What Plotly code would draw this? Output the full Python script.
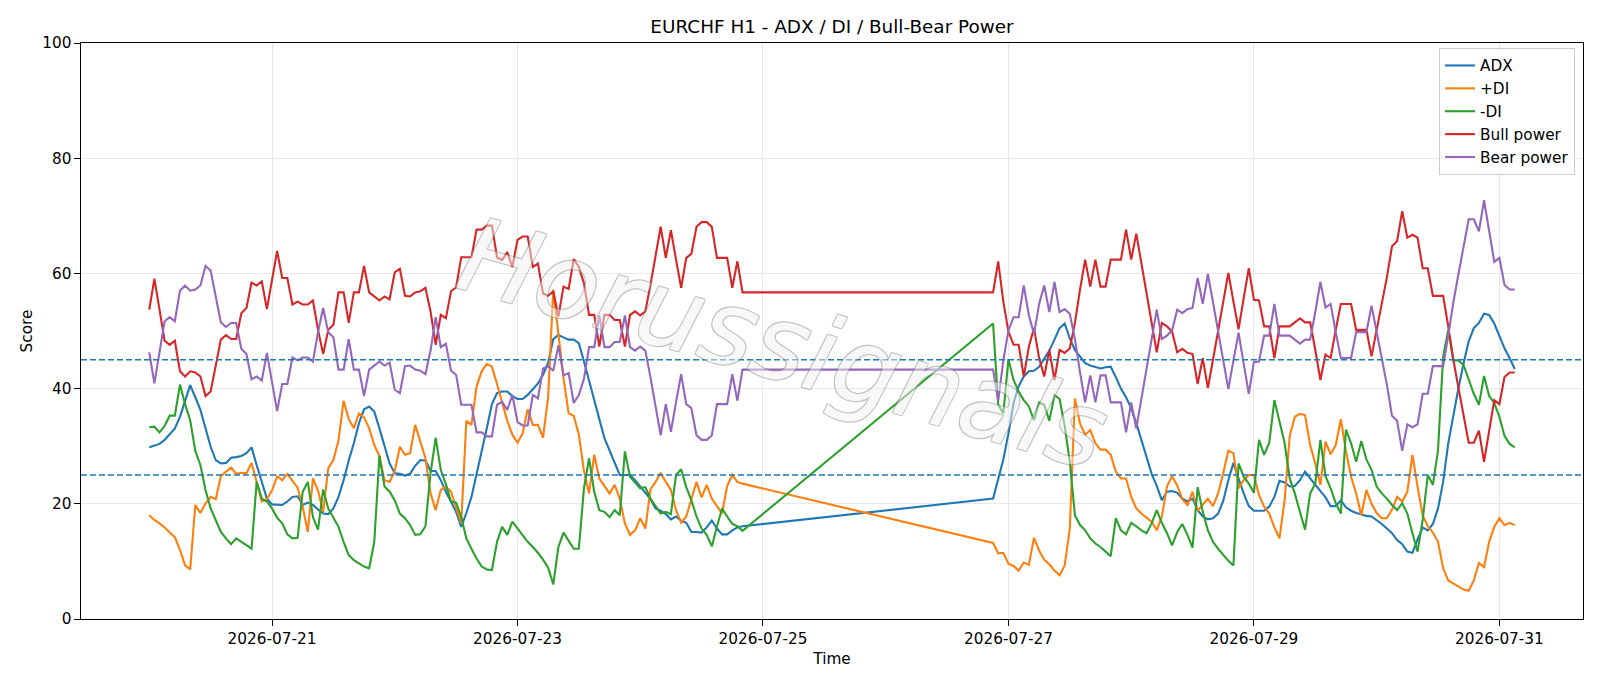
import pandas as pd
import plotly.graph_objects as go

# hourly bars, the market is closed over the weekend
times = list(pd.date_range("2026-07-20 00:00", "2026-07-24 20:00", freq="h")) + \
    list(pd.date_range("2026-07-26 21:00", "2026-07-31 03:00", freq="h"))

adx_wk1 = [
    29.8, 30.1, 30.4, 31.1, 32.1, 33.1, 35.1, 37.9, 40.6, 38.5,
    36.3, 33.1, 29.9, 27.6, 27.0, 27.1, 28.0, 28.1, 28.3, 28.8,
    29.8, 26.7, 23.8, 20.9, 19.9, 19.8, 19.8, 20.4, 21.2, 21.3,
    19.8, 20.2, 19.8, 19.0, 18.3, 18.2, 19.2, 21.2, 24.1, 27.5,
    30.5, 34.0, 36.4, 36.9, 36.0, 33.1, 29.9, 27.0, 25.3, 25.2,
    24.9, 25.2, 26.6, 27.6, 27.5, 25.7, 25.7, 24.1, 22.1, 20.4,
    18.6, 16.0, 18.4, 21.2, 25.0, 29.1, 33.1, 37.3, 39.2, 39.5,
    39.5, 38.7, 38.2, 38.2, 38.9, 39.9, 40.9, 42.4, 44.5, 48.6,
    49.3, 48.9, 48.5, 48.5, 47.9, 44.7, 41.5, 38.0, 34.7, 31.4,
    29.3, 27.0, 25.0, 25.0, 25.0, 24.1, 23.0, 21.8, 20.8, 19.2,
    18.8, 18.2, 17.3, 17.8, 17.1, 16.7, 15.1, 15.1, 15.0, 15.9,
    17.1, 15.7, 14.7, 14.7, 15.4, 15.9, 16.1,
]
adx_wk2 = [
    20.9, 24.4, 27.7, 32.2, 37.5,
    40.4, 42.1, 43.0, 43.1, 43.8, 45.2, 46.6, 48.5, 50.5, 51.3,
    48.7, 46.7, 45.5, 44.4, 44.0, 43.7, 43.5, 43.7, 43.8, 42.0,
    40.0, 38.5, 36.6, 34.0, 31.1, 28.3, 25.2, 23.1, 20.6, 22.1,
    22.2, 21.9, 20.9, 20.4, 20.9, 18.9, 17.8, 17.3, 17.5, 18.3,
    20.5, 24.1, 27.1, 24.4, 21.8, 19.6, 18.8, 18.8, 18.8, 19.5,
    21.2, 24.0, 23.7, 23.0, 23.1, 24.1, 25.6, 24.4, 23.3, 22.1,
    21.1, 19.6, 19.6, 20.6, 19.4, 18.8, 18.4, 18.2, 17.9, 17.8,
    17.2, 16.5, 15.7, 14.9, 13.7, 13.0, 11.7, 11.5, 13.8, 15.9,
    15.4, 16.5, 19.2, 23.8, 30.5, 35.6, 40.1, 44.4, 48.2, 50.5,
    51.4, 53.0, 52.8, 51.3, 49.0, 47.0, 45.3, 43.4,
]

pdi_wk1 = [
    18.0, 17.2, 16.6, 15.9, 15.0, 14.2, 12.0, 9.3, 8.6, 19.8,
    18.4, 20.1, 21.2, 20.8, 24.8, 25.6, 26.3, 25.2, 25.4, 25.3,
    27.1, 23.8, 20.4, 20.8, 22.3, 24.8, 24.1, 25.2, 24.1, 22.8,
    19.5, 15.1, 24.4, 22.3, 18.6, 26.2, 27.6, 31.0, 37.9, 34.7,
    33.1, 35.7, 35.0, 33.1, 30.2, 28.3, 24.1, 23.8, 25.7, 29.9,
    28.5, 28.8, 33.7, 30.8, 27.9, 21.8, 18.9, 22.4, 23.0, 22.1,
    19.2, 16.6, 34.4, 33.7, 40.4, 43.0, 44.3, 43.8, 40.8, 37.6,
    34.4, 32.0, 30.6, 32.2, 36.4, 33.7, 33.7, 31.5, 38.6, 57.2,
    49.7, 41.8, 35.7, 35.3, 32.0, 25.7, 21.8, 28.5, 24.4, 23.1,
    21.8, 23.3, 20.9, 16.6, 14.6, 15.4, 17.5, 15.7, 22.5, 23.8,
    25.4, 23.8, 22.4, 18.9, 16.7, 17.8, 20.6, 23.8, 21.1, 23.3,
    20.9, 19.5, 18.3, 23.1, 25.0, 23.8, 23.5,
]
pdi_wk2 = [
    13.2, 11.4, 11.5, 9.6, 9.2,
    8.4, 9.8, 9.4, 14.1, 11.9, 10.3, 9.5, 8.4, 7.6, 9.3,
    15.7, 38.3, 33.9, 32.0, 32.8, 30.5, 29.4, 29.4, 28.5, 25.6,
    24.4, 24.4, 21.2, 19.2, 18.3, 17.6, 16.9, 15.4, 17.8, 23.0,
    24.8, 23.2, 20.8, 19.8, 22.1, 18.8, 19.8, 20.9, 19.6, 21.8,
    25.3, 29.2, 28.8, 22.7, 24.1, 25.0, 25.0, 21.5, 19.5, 18.3,
    15.9, 14.0, 20.6, 31.8, 35.1, 35.6, 35.4, 30.2, 27.0, 23.3,
    30.8, 28.6, 30.2, 34.7, 29.1, 24.7, 21.8, 18.0, 22.4, 20.0,
    18.4, 17.5, 17.5, 19.0, 21.2, 20.4, 22.1, 28.5, 23.0, 18.0,
    16.1, 15.0, 13.4, 8.8, 6.7, 6.2, 5.6, 5.1, 4.9, 6.7,
    9.7, 9.0, 13.4, 16.0, 17.5, 16.3, 16.7, 16.3,
]

mdi_wk1 = [
    33.3, 33.4, 32.4, 33.5, 35.3, 35.3, 40.7, 37.3, 34.5, 29.2,
    26.7, 22.4, 19.2, 17.2, 15.1, 14.0, 13.0, 14.0, 13.4, 12.8,
    12.2, 23.8, 20.9, 20.4, 19.2, 17.6, 16.6, 14.7, 14.0, 14.1,
    22.1, 23.8, 17.7, 15.5, 22.5, 19.2, 17.7, 16.0, 13.4, 11.1,
    10.2, 9.6, 9.1, 8.8, 13.4, 28.3, 23.0, 22.1, 20.6, 18.3,
    17.5, 16.3, 14.6, 14.7, 16.1, 25.3, 31.5, 25.9, 23.4, 20.4,
    20.2, 17.7, 14.0, 12.2, 10.5, 9.1, 8.6, 8.5, 13.4, 16.0,
    14.6, 16.9, 15.7, 14.6, 13.4, 12.5, 11.5, 10.3, 8.9, 6.0,
    12.5, 15.0, 13.7, 12.2, 12.2, 22.7, 27.9, 22.1, 18.9, 18.6,
    17.7, 18.9, 18.0, 29.1, 24.7, 23.7, 22.7, 22.9, 20.9, 19.6,
    18.3, 18.6, 18.2, 25.0, 26.0, 22.9, 20.6, 17.8, 15.7, 14.6,
    12.6, 16.0, 19.2, 17.8, 16.5, 16.1, 15.3,
]
mdi_wk2 = [
    51.3, 37.2, 35.7, 45.1, 41.5,
    39.5, 38.0, 36.9, 34.5, 37.6, 37.2, 34.4, 38.9, 38.2, 33.5,
    27.3, 18.0, 16.3, 15.4, 14.0, 13.1, 12.5, 11.7, 10.9, 17.5,
    15.4, 14.7, 16.7, 16.1, 15.4, 14.9, 16.6, 18.9, 16.7, 14.9,
    12.8, 15.1, 16.5, 14.6, 12.4, 22.9, 18.6, 15.4, 13.4, 12.2,
    11.1, 10.1, 9.3, 27.0, 24.7, 23.5, 21.9, 31.1, 28.5, 30.6,
    38.0, 34.3, 30.6, 24.4, 21.8, 18.6, 15.5, 21.8, 23.5, 31.1,
    24.8, 22.7, 20.1, 18.3, 32.9, 30.5, 27.3, 30.9, 27.7, 25.9,
    23.0, 21.8, 20.9, 19.8, 18.9, 20.1, 18.3, 14.9, 11.7, 17.2,
    25.0, 23.3, 29.3, 45.5, 50.2, 44.9, 44.9, 44.1, 41.5, 39.1,
    37.2, 42.2, 38.7, 37.5, 35.1, 31.8, 30.4, 29.8,
]

bull_wk1 = [
    53.7, 59.1, 53.7, 48.3, 47.6, 48.3, 43.0, 42.1, 43.0, 42.8,
    42.1, 38.7, 39.5, 43.8, 48.5, 49.3, 48.6, 48.6, 53.1, 54.0,
    58.4, 57.9, 58.6, 53.8, 58.9, 63.9, 59.2, 59.2, 54.6, 55.1,
    54.6, 54.6, 55.3, 50.2, 46.0, 50.2, 51.1, 56.7, 56.7, 51.4,
    56.7, 56.7, 61.3, 56.7, 56.0, 55.3, 56.0, 55.5, 60.2, 60.8,
    56.1, 56.0, 56.7, 56.9, 57.5, 53.4, 47.6, 52.8, 52.2, 56.9,
    57.6, 62.8, 62.8, 62.8, 67.6, 67.6, 68.3, 68.3, 62.8, 62.3,
    63.7, 61.1, 65.8, 66.4, 66.4, 61.1, 61.7, 56.5, 56.1, 56.9,
    52.5, 57.7, 57.3, 62.5, 61.1, 58.3, 52.8, 52.8, 47.3, 52.8,
    52.8, 51.9, 51.9, 47.3, 52.8, 53.4, 52.7, 53.4, 58.0, 63.1,
    68.1, 62.7, 67.5, 62.4, 57.5, 62.7, 63.4, 68.1, 68.9, 68.9,
    68.1, 62.7, 62.7, 62.7, 57.5, 62.1, 56.7,
]
bull_wk2 = [
    56.7, 62.1, 55.1, 49.9, 47.6,
    47.6, 42.1, 47.3, 50.5, 45.3, 42.1, 46.7, 41.5, 46.7, 46.2,
    47.0, 51.4, 57.2, 62.4, 57.7, 62.4, 57.7, 57.7, 62.4, 62.4,
    62.4, 67.6, 62.4, 66.9, 61.8, 56.9, 51.7, 46.3, 51.4, 50.8,
    49.9, 46.3, 46.9, 46.2, 46.0, 40.8, 45.3, 40.1, 45.0, 49.9,
    54.9, 60.1, 55.1, 50.3, 55.7, 60.9, 55.4, 55.3, 50.8, 50.8,
    45.3, 50.8, 50.8, 50.8, 51.5, 52.2, 51.5, 51.5, 46.7, 41.5,
    45.9, 45.3, 50.2, 54.7, 54.7, 54.7, 50.2, 50.2, 50.2, 45.6,
    50.2, 55.0, 59.3, 64.7, 65.6, 70.8, 66.2, 66.7, 66.2, 60.9,
    60.9, 56.1, 56.1, 56.1, 50.8, 45.0, 40.1, 35.1, 30.6, 30.6,
    32.7, 27.3, 32.5, 38.0, 37.3, 42.0, 42.8, 42.8,
]

bear_wk1 = [
    46.3, 40.9, 46.3, 51.7, 52.4, 51.7, 57.0, 57.9, 57.0, 57.2,
    57.9, 61.3, 60.5, 56.2, 51.5, 50.7, 51.4, 51.4, 46.9, 46.0,
    41.6, 42.1, 41.4, 46.2, 41.1, 36.1, 40.8, 40.8, 45.4, 44.9,
    45.4, 45.4, 44.7, 49.8, 54.0, 49.8, 48.9, 43.3, 43.3, 48.6,
    43.3, 43.3, 38.7, 43.3, 44.0, 44.7, 44.0, 44.5, 39.8, 39.2,
    43.9, 44.0, 43.3, 43.1, 42.5, 46.6, 52.4, 47.2, 47.8, 43.1,
    42.4, 37.2, 37.2, 37.2, 32.4, 32.4, 31.7, 31.7, 37.2, 37.7,
    36.3, 38.9, 34.2, 33.6, 33.6, 38.9, 38.3, 43.5, 43.9, 43.1,
    47.5, 42.3, 42.7, 37.5, 38.9, 41.7, 47.2, 47.2, 52.7, 47.2,
    47.2, 48.1, 48.1, 52.7, 47.2, 46.6, 47.3, 46.6, 42.0, 36.9,
    31.9, 37.3, 32.5, 37.6, 42.5, 37.3, 36.6, 31.9, 31.1, 31.1,
    31.9, 37.3, 37.3, 37.3, 42.5, 37.9, 43.3,
]
bear_wk2 = [
    43.3, 37.9, 44.9, 50.1, 52.4,
    52.4, 57.9, 52.7, 49.5, 54.7, 57.9, 53.3, 58.5, 53.3, 53.8,
    53.0, 48.6, 42.8, 37.6, 42.3, 37.6, 42.3, 42.3, 37.6, 37.6,
    37.6, 32.4, 37.6, 33.1, 38.2, 43.1, 48.3, 53.7, 48.6, 49.2,
    50.1, 53.7, 53.1, 53.8, 54.0, 59.2, 54.7, 59.9, 55.0, 50.1,
    45.1, 39.9, 44.9, 49.7, 44.3, 39.1, 44.6, 44.7, 49.2, 49.2,
    54.7, 49.2, 49.2, 49.2, 48.5, 47.8, 48.5, 48.5, 53.3, 58.5,
    54.1, 54.7, 49.8, 45.3, 45.3, 45.3, 49.8, 49.8, 49.8, 54.4,
    49.8, 45.0, 40.7, 35.3, 34.4, 29.2, 33.8, 33.3, 33.8, 39.1,
    39.1, 43.9, 43.9, 43.9, 49.2, 55.0, 59.9, 64.9, 69.4, 69.4,
    67.3, 72.7, 67.5, 62.0, 62.7, 58.0, 57.2, 57.2,
]

levels = [45, 25]
tick_days = ["2026-07-21", "2026-07-23", "2026-07-25", "2026-07-27", "2026-07-29", "2026-07-31"]

series = [
    ("ADX", adx_wk1 + adx_wk2, "#1f77b4"),
    ("+DI", pdi_wk1 + pdi_wk2, "#ff7f0e"),
    ("-DI", mdi_wk1 + mdi_wk2, "#2ca02c"),
    ("Bull power", bull_wk1 + bull_wk2, "#d62728"),
    ("Bear power", bear_wk1 + bear_wk2, "#9467bd"),
]

font = "DejaVu Sans, Arial, sans-serif"

fig = go.Figure()
for name, vals, color in series:
    assert len(vals) == len(times), (name, len(vals), len(times))
    fig.add_trace(go.Scatter(x=times, y=vals, name=name, mode="lines",
                             line=dict(color=color, width=2.1)))

for lv in levels:
    fig.add_hline(y=lv, line=dict(color="#1f77b4", width=1.5, dash="6px,3px"))

# watermark: pale letters with a grey rim, faded as a whole
rim = "#8a8a8a"
fig.add_annotation(text="Horussignals", xref="paper", yref="paper", x=0.468, y=0.478,
                   showarrow=False, textangle=16, opacity=0.5,
                   font=dict(family=font, size=104, color="#f2f2f2", style="italic",
                             shadow=f"-1px -1px 0 {rim}, 1px -1px 0 {rim}, "
                                    f"-1px 1px 0 {rim}, 1px 1px 0 {rim}"))

axis_common = dict(showline=True, linecolor="black", linewidth=1.1, mirror=True,
                   ticks="outside", ticklen=5.5, tickwidth=1.1, tickcolor="black",
                   showgrid=True, gridcolor="#e8e8e8", gridwidth=1.1, zeroline=False,
                   tickfont=dict(family=font, size=15.3, color="black"))

fig.update_layout(
    width=1600, height=686,
    margin=dict(l=81, r=17, t=43, b=67, autoexpand=False),
    plot_bgcolor="white", paper_bgcolor="white",
    font=dict(family=font, size=15.3, color="black"),
    title=dict(text="EURCHF H1 - ADX / DI / Bull-Bear Power", xref="paper", x=0.5,
               xanchor="center", yref="container", y=1 - 26.7 / 686, yanchor="middle",
               font=dict(family=font, size=18.4, color="black")),
    xaxis=dict(axis_common, range=["2026-07-19 10:39", "2026-07-31 16:21"],
               tickvals=tick_days, tickformat="%Y-%m-%d",
               title=dict(text="Time", standoff=6, font=dict(family=font, size=15.3))),
    yaxis=dict(axis_common, range=[0, 100], tickvals=[0, 20, 40, 60, 80, 100],
               title=dict(text="Score", standoff=5, font=dict(family=font, size=15.3))),
    legend=dict(x=0.9947, y=0.9913, xanchor="right", yanchor="top",
                bgcolor="rgba(255,255,255,0.8)", bordercolor="#cccccc", borderwidth=1,
                font=dict(family=font, size=15.3)),
)

# drop the default page margin so the figure sits at the window corner
fig.write_html("out.html", config={"displayModeBar": False},
               post_script="document.body.style.margin='0';document.body.style.overflow='hidden';")
